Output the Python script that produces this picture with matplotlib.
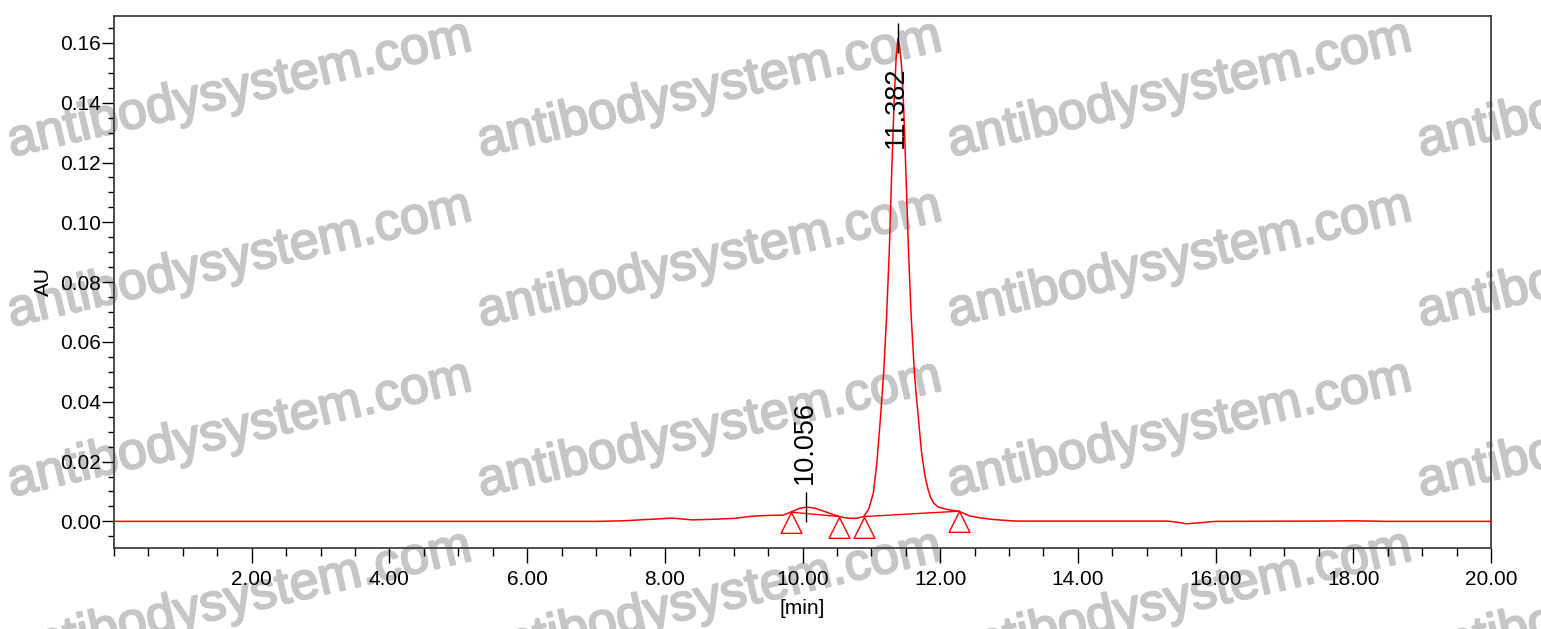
import matplotlib
matplotlib.use("Agg")
import matplotlib.pyplot as plt
import matplotlib.patheffects as pe
from matplotlib.path import Path
from matplotlib.ticker import MultipleLocator, FixedLocator, FormatStrFormatter

plt.rcParams["font.family"] = ["Liberation Sans", "DejaVu Sans"]

# Chromatogram trace (time in min, absorbance in AU)
TIME = [0.00, 7.00, 7.40, 7.80, 8.10, 8.40, 8.70, 9.00, 9.30, 9.50, 9.72,
        9.83, 9.95, 10.06, 10.18, 10.31, 10.43, 10.535, 10.65, 10.78, 10.887,
        10.96, 11.03, 11.08, 11.13, 11.18, 11.22, 11.26, 11.30, 11.33, 11.36, 11.385,
        11.41, 11.44, 11.47, 11.50, 11.54, 11.58, 11.63, 11.685, 11.73, 11.78, 11.82,
        11.86, 11.91, 11.97, 12.10, 12.27, 12.43, 12.60, 12.75, 12.90, 13.10, 15.30,
        15.45, 15.58, 15.75, 16.00, 17.50, 18.00, 18.50, 20.00]
AU = [0.0000, 0.0000, 0.0002, 0.0007, 0.0011, 0.0005, 0.0007, 0.0010, 0.0018, 0.0020, 0.0021,
      0.0031, 0.0043, 0.0048, 0.0044, 0.0034, 0.0024, 0.0016, 0.0011, 0.0010, 0.0016,
      0.0040, 0.0096, 0.0196, 0.0340, 0.0500, 0.0680, 0.0900, 0.1200, 0.1400, 0.1550, 0.1615,
      0.1590, 0.1520, 0.1380, 0.1180, 0.0900, 0.0680, 0.0480, 0.0340, 0.0229, 0.0151, 0.0110,
      0.0080, 0.0060, 0.0048, 0.0040, 0.0034, 0.0018, 0.0011, 0.0007, 0.0004, 0.0001, 0.0001,
      -0.0003, -0.0008, -0.0005, 0.0000, 0.0001, 0.0002, 0.0000, 0.0000]

# Integration baseline points (triangle markers)
BASE_T = [9.83, 10.535, 10.887, 12.27]
BASE_AU = [0.0031, 0.0016, 0.0016, 0.0034]

# Peak apex labels
PEAK_T = [10.056, 11.382]
PEAK_AU = [0.0048, 0.1615]
PEAK_LABELS = ["10.056", "11.382"]

X_MAJOR = [2, 4, 6, 8, 10, 12, 14, 16, 18, 20]

RED = "#ff0000"
WM_GRAY = "#c6c6c6"

fig = plt.figure(figsize=(15.41, 6.29), dpi=100)
ax = fig.add_axes([114 / 1541, 1 - 548 / 629, (1491 - 114) / 1541, (548 - 16) / 629])
ax.patch.set_alpha(0)

# watermark tiles behind the axes (the right column runs off the page, as in the source)
for cy in [90, 260, 430, 600]:
    for cx in [240, 710, 1180, 1650]:
        fig.text(cx / 1541, 1 - cy / 629, "antibodysystem.com", fontsize=37.5,
                 color=WM_GRAY, rotation=13, ha="center", va="center",
                 rotation_mode="anchor", zorder=-5,
                 path_effects=[pe.withStroke(linewidth=1.5, foreground=WM_GRAY)])

ax.plot(TIME, AU, color=RED, linewidth=1.1, zorder=3)

# baseline segments between start/end markers of each peak
ax.plot(BASE_T[0:2], BASE_AU[0:2], color=RED, linewidth=1.0, zorder=3)
ax.plot(BASE_T[2:4], BASE_AU[2:4], color=RED, linewidth=1.0, zorder=3)

apex_tri = Path([(0, 0), (-0.5, -1), (0.5, -1), (0, 0)],
                [Path.MOVETO, Path.LINETO, Path.LINETO, Path.CLOSEPOLY])
ax.plot(BASE_T, BASE_AU, linestyle="none", marker=apex_tri, markersize=30,
        markerfacecolor="none", markeredgecolor=RED, markeredgewidth=1.0, zorder=4)

# retention time labels
ax.vlines(PEAK_T, [v - 0.005 for v in PEAK_AU], [v + 0.005 for v in PEAK_AU],
          color="black", linewidth=1.0, zorder=5)
ax.annotate(PEAK_LABELS[0], xy=(PEAK_T[0], PEAK_AU[0] + 0.005), xytext=(-1, 6),
            textcoords="offset points", rotation=90, ha="center", va="bottom",
            fontsize=19.5)
ax.annotate(PEAK_LABELS[1], xy=(PEAK_T[1], PEAK_AU[1]), xytext=(-1, -20),
            textcoords="offset points", rotation=90, ha="center", va="top",
            fontsize=19.5)

ax.set_xlim(0, 20)
ax.set_ylim(-0.0089, 0.169)

ax.xaxis.set_major_locator(FixedLocator(X_MAJOR))
ax.xaxis.set_minor_locator(MultipleLocator(0.5))
ax.xaxis.set_major_formatter(FormatStrFormatter("%.2f"))
ax.yaxis.set_major_locator(MultipleLocator(0.02))
ax.yaxis.set_minor_locator(MultipleLocator(0.005))
ax.yaxis.set_major_formatter(FormatStrFormatter("%.2f"))

ax.tick_params(axis="both", which="both", direction="out", width=1, color="black",
               labelsize=15)
ax.tick_params(axis="x", which="major", length=11, pad=5)
ax.tick_params(axis="x", which="minor", length=6)
ax.tick_params(axis="y", which="major", length=9, pad=0.5)
ax.tick_params(axis="y", which="minor", length=4.5)

for sp in ax.spines.values():
    sp.set_color("#404040")
    sp.set_linewidth(1.3)

ax.set_xlabel("[min]", fontsize=15, labelpad=7)
ax.set_ylabel("AU", fontsize=15, labelpad=5)

fig.savefig("out.png", dpi=100)
